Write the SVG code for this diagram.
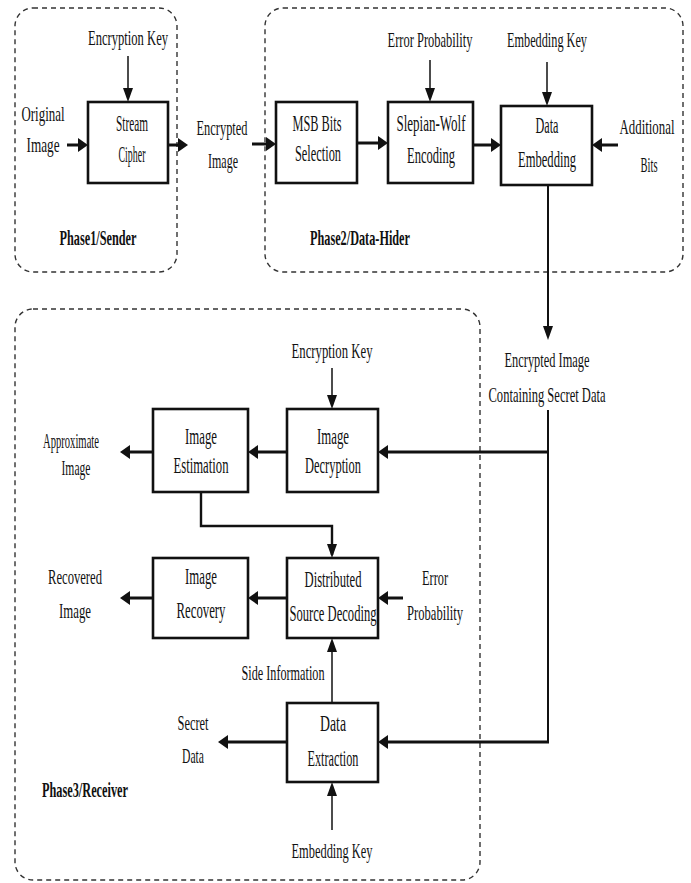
<svg xmlns="http://www.w3.org/2000/svg" width="691" height="883" viewBox="0 0 691 883">
  <style>
    text { font-family: "Liberation Serif", "Times New Roman", serif; fill: #111; text-anchor: middle; }
    .l { font-size: 21px; }
    .b { font-size: 24px; }
    .p { font-size: 22px; font-weight: bold; }
    .grp { fill: none; stroke: #333; stroke-width: 1.4; stroke-dasharray: 5 4; }
    .box rect { fill: #fff; stroke: #111; stroke-width: 2.6; }
    .thick { fill: none; stroke: #111; stroke-width: 3; marker-end: url(#ah); }
    .thin { fill: none; stroke: #111; stroke-width: 1.5; marker-end: url(#at); }
    .mid { fill: none; stroke: #111; stroke-width: 2.4; }
  </style>
  <defs>
    <marker id="ah" markerUnits="userSpaceOnUse" markerWidth="10" markerHeight="14" refX="4" refY="7" orient="auto">
      <path d="M0,0 L10,7 L0,14 z" fill="#111"/>
    </marker>
    <marker id="at" markerUnits="userSpaceOnUse" markerWidth="14" markerHeight="10" refX="11" refY="5" orient="auto">
      <path d="M0,0 L14,5 L0,10 z" fill="#111"/>
    </marker>
  </defs>

  <rect width="691" height="883" fill="#fff"/>

  <!-- phase frames -->
  <g id="phase1">
    <rect class="grp" x="15" y="8" width="162" height="264" rx="18"/>
    <text class="p" x="98" y="245" textLength="77" lengthAdjust="spacingAndGlyphs">Phase1/Sender</text>
  </g>
  <g id="phase2">
    <rect class="grp" x="265" y="8" width="418" height="264" rx="18"/>
    <text class="p" x="360" y="245" textLength="100" lengthAdjust="spacingAndGlyphs">Phase2/Data-Hider</text>
  </g>
  <g id="phase3">
    <rect class="grp" x="15" y="309" width="465" height="571" rx="18"/>
    <text class="p" x="85" y="797" textLength="86" lengthAdjust="spacingAndGlyphs">Phase3/Receiver</text>
  </g>

  <!-- processing blocks -->
  <g id="stream-cipher" class="box">
    <rect x="88" y="102" width="80" height="81"/>
    <text class="b" x="132" y="131" textLength="32" lengthAdjust="spacingAndGlyphs">Stream</text>
    <text class="b" x="132" y="162" textLength="27" lengthAdjust="spacingAndGlyphs">Cipher</text>
  </g>
  <g id="msb-selection" class="box">
    <rect x="276" y="102" width="81" height="81"/>
    <text class="b" x="317" y="131" textLength="49" lengthAdjust="spacingAndGlyphs">MSB Bits</text>
    <text class="b" x="318" y="161" textLength="46" lengthAdjust="spacingAndGlyphs">Selection</text>
  </g>
  <g id="slepian-wolf" class="box">
    <rect x="388" y="102" width="85" height="81"/>
    <text class="b" x="431" y="131" textLength="69" lengthAdjust="spacingAndGlyphs">Slepian-Wolf</text>
    <text class="b" x="431" y="163" textLength="48" lengthAdjust="spacingAndGlyphs">Encoding</text>
  </g>
  <g id="data-embedding" class="box">
    <rect x="501" y="106" width="91" height="79"/>
    <text class="b" x="547" y="133" textLength="23" lengthAdjust="spacingAndGlyphs">Data</text>
    <text class="b" x="547" y="167" textLength="58" lengthAdjust="spacingAndGlyphs">Embedding</text>
  </g>
  <g id="image-decryption" class="box">
    <rect x="287" y="409" width="91" height="83"/>
    <text class="b" x="333" y="444" textLength="32" lengthAdjust="spacingAndGlyphs">Image</text>
    <text class="b" x="333" y="473" textLength="56" lengthAdjust="spacingAndGlyphs">Decryption</text>
  </g>
  <g id="image-estimation" class="box">
    <rect x="153" y="409" width="95" height="83"/>
    <text class="b" x="201" y="444" textLength="32" lengthAdjust="spacingAndGlyphs">Image</text>
    <text class="b" x="201" y="473" textLength="55" lengthAdjust="spacingAndGlyphs">Estimation</text>
  </g>
  <g id="image-recovery" class="box">
    <rect x="153" y="558" width="95" height="80"/>
    <text class="b" x="201" y="584" textLength="32" lengthAdjust="spacingAndGlyphs">Image</text>
    <text class="b" x="201" y="618" textLength="49" lengthAdjust="spacingAndGlyphs">Recovery</text>
  </g>
  <g id="source-decoding" class="box">
    <rect x="287" y="558" width="91" height="80"/>
    <text class="b" x="333" y="587" textLength="57" lengthAdjust="spacingAndGlyphs">Distributed</text>
    <text class="b" x="333" y="621" textLength="87" lengthAdjust="spacingAndGlyphs">Source Decoding</text>
  </g>
  <g id="data-extraction" class="box">
    <rect x="287" y="703" width="91" height="79"/>
    <text class="b" x="333" y="731" textLength="26" lengthAdjust="spacingAndGlyphs">Data</text>
    <text class="b" x="333" y="766" textLength="51" lengthAdjust="spacingAndGlyphs">Extraction</text>
  </g>

  <!-- inputs and outputs -->
  <g id="encryption-key-1">
    <text class="l" x="128" y="45" textLength="80" lengthAdjust="spacingAndGlyphs">Encryption Key</text>
  </g>
  <g id="original-image">
    <text class="l" x="43" y="121" textLength="43" lengthAdjust="spacingAndGlyphs">Original</text>
    <text class="l" x="43" y="152" textLength="33" lengthAdjust="spacingAndGlyphs">Image</text>
  </g>
  <g id="encrypted-image">
    <text class="l" x="222" y="135" textLength="51" lengthAdjust="spacingAndGlyphs">Encrypted</text>
    <text class="l" x="223" y="168" textLength="30" lengthAdjust="spacingAndGlyphs">Image</text>
  </g>
  <g id="error-probability-1">
    <text class="l" x="430" y="47" textLength="85" lengthAdjust="spacingAndGlyphs">Error Probability</text>
  </g>
  <g id="embedding-key-1">
    <text class="l" x="547" y="47" textLength="80" lengthAdjust="spacingAndGlyphs">Embedding Key</text>
  </g>
  <g id="additional-bits">
    <text class="l" x="647" y="134" textLength="55" lengthAdjust="spacingAndGlyphs">Additional</text>
    <text class="l" x="649" y="172" textLength="17" lengthAdjust="spacingAndGlyphs">Bits</text>
  </g>
  <g id="marked-image">
    <text class="l" x="547" y="367" textLength="85" lengthAdjust="spacingAndGlyphs">Encrypted Image</text>
    <text class="l" x="547" y="402" textLength="117" lengthAdjust="spacingAndGlyphs">Containing Secret Data</text>
  </g>
  <g id="encryption-key-2">
    <text class="l" x="332" y="358" textLength="81" lengthAdjust="spacingAndGlyphs">Encryption Key</text>
  </g>
  <g id="approximate-image">
    <text class="l" x="71" y="448" textLength="56" lengthAdjust="spacingAndGlyphs">Approximate</text>
    <text class="l" x="76" y="475" textLength="29" lengthAdjust="spacingAndGlyphs">Image</text>
  </g>
  <g id="recovered-image">
    <text class="l" x="75" y="584" textLength="54" lengthAdjust="spacingAndGlyphs">Recovered</text>
    <text class="l" x="75" y="618" textLength="32" lengthAdjust="spacingAndGlyphs">Image</text>
  </g>
  <g id="error-probability-2">
    <text class="l" x="435" y="585" textLength="26" lengthAdjust="spacingAndGlyphs">Error</text>
    <text class="l" x="435" y="620" textLength="56" lengthAdjust="spacingAndGlyphs">Probability</text>
  </g>
  <g id="side-information">
    <text class="l" x="283" y="680" textLength="83" lengthAdjust="spacingAndGlyphs">Side Information</text>
  </g>
  <g id="secret-data">
    <text class="l" x="193" y="730" textLength="31" lengthAdjust="spacingAndGlyphs">Secret</text>
    <text class="l" x="193" y="763" textLength="22" lengthAdjust="spacingAndGlyphs">Data</text>
  </g>
  <g id="embedding-key-2">
    <text class="l" x="332" y="858" textLength="81" lengthAdjust="spacingAndGlyphs">Embedding Key</text>
  </g>

  <!-- connectors -->
  <g id="connectors">
    <line class="thin" x1="128" y1="56" x2="128" y2="99"/>
    <line class="thick" x1="67" y1="145" x2="82" y2="145"/>
    <line class="thick" x1="168" y1="145" x2="182" y2="145"/>
    <line class="thick" x1="252" y1="144" x2="270" y2="144"/>
    <line class="thick" x1="357" y1="143" x2="382" y2="143"/>
    <line class="thin" x1="430" y1="60" x2="430" y2="99"/>
    <line class="thick" x1="473" y1="145" x2="495" y2="145"/>
    <line class="thin" x1="547" y1="62" x2="547" y2="103"/>
    <line class="thick" x1="618" y1="145" x2="598" y2="145"/>
    <line class="thin" x1="548" y1="185" x2="548" y2="337" style="stroke-width:2"/>

    <line class="mid" x1="548" y1="410" x2="548" y2="743" style="stroke-width:2"/>
    <line class="thick" x1="549" y1="452" x2="384" y2="452"/>
    <line class="thick" x1="549" y1="742" x2="384" y2="742"/>

    <line class="thin" x1="332" y1="368" x2="332" y2="406"/>
    <line class="thick" x1="287" y1="452" x2="254" y2="452"/>
    <line class="thick" x1="153" y1="452" x2="126" y2="452"/>
    <polyline class="mid" points="201,492 201,526 332,526 332,555" marker-end="url(#at)"/>
    <line class="thick" x1="287" y1="598" x2="254" y2="598"/>
    <line class="thick" x1="153" y1="598" x2="126" y2="598"/>
    <line class="thick" x1="403" y1="598" x2="384" y2="598"/>
    <line class="thin" x1="332" y1="703" x2="332" y2="641"/>
    <line class="thick" x1="287" y1="742" x2="224" y2="742"/>
    <line class="thin" x1="332" y1="830" x2="332" y2="785"/>
  </g>
</svg>
